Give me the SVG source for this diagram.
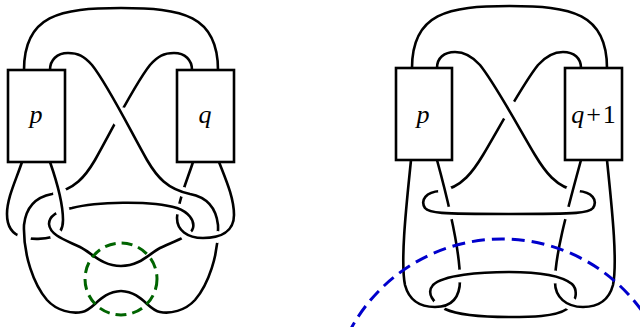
<svg xmlns="http://www.w3.org/2000/svg" width="640" height="327" viewBox="0 0 640 327">
<style>
.s{fill:none;stroke:#000;stroke-width:2.6;stroke-linecap:butt;stroke-linejoin:round}
.box{fill:#fff;stroke:#000;stroke-width:2.6}
.lbl{font-family:"Liberation Serif","Times New Roman",serif;font-size:26px;text-anchor:middle;fill:#000}
.it{font-style:italic}
.g{fill:none;stroke:#006400;stroke-width:3;stroke-dasharray:11 6}
.b{fill:none;stroke:#0000cc;stroke-width:3;stroke-dasharray:13 7}
</style>
<defs>
<mask id="mS1" maskUnits="userSpaceOnUse" x="0" y="0" width="640" height="327"><rect width="640" height="327" fill="#fff"/><circle cx="217.5" cy="237" r="6" fill="#000"/></mask>
<mask id="mS2" maskUnits="userSpaceOnUse" x="0" y="0" width="640" height="327"><rect width="640" height="327" fill="#fff"/><circle cx="121" cy="117" r="10" fill="#000"/><circle cx="60" cy="193" r="7" fill="#000"/></mask>
<mask id="mLH" maskUnits="userSpaceOnUse" x="0" y="0" width="640" height="327"><rect width="640" height="327" fill="#fff"/><circle cx="56.5" cy="235.5" r="6.5" fill="#000"/><circle cx="24" cy="237.5" r="7" fill="#000"/></mask>
<mask id="mRH" maskUnits="userSpaceOnUse" x="0" y="0" width="640" height="327"><rect width="640" height="327" fill="#fff"/><circle cx="183" cy="192" r="5" fill="#000"/><circle cx="178.5" cy="209" r="5.5" fill="#000"/></mask>
<mask id="mLoop" maskUnits="userSpaceOnUse" x="0" y="0" width="640" height="327"><rect width="640" height="327" fill="#fff"/><circle cx="62.5" cy="210.5" r="7" fill="#000"/><circle cx="186.5" cy="235" r="6" fill="#000"/></mask>
<mask id="mT1" maskUnits="userSpaceOnUse" x="0" y="0" width="640" height="327"><rect width="640" height="327" fill="#fff"/><circle cx="573" cy="190.5" r="7" fill="#000"/></mask>
<mask id="mT2" maskUnits="userSpaceOnUse" x="0" y="0" width="640" height="327"><rect width="640" height="327" fill="#fff"/><circle cx="509" cy="110" r="10" fill="#000"/><circle cx="445" cy="191" r="7" fill="#000"/></mask>
<mask id="mPH" maskUnits="userSpaceOnUse" x="0" y="0" width="640" height="327"><rect width="640" height="327" fill="#fff"/><circle cx="450" cy="213" r="6.5" fill="#000"/><circle cx="460" cy="276" r="6.5" fill="#000"/></mask>
<mask id="mQH" maskUnits="userSpaceOnUse" x="0" y="0" width="640" height="327"><rect width="640" height="327" fill="#fff"/><circle cx="567" cy="213" r="6.5" fill="#000"/><circle cx="555" cy="277" r="6.5" fill="#000"/></mask>
<mask id="mEl" maskUnits="userSpaceOnUse" x="0" y="0" width="640" height="327"><rect width="640" height="327" fill="#fff"/><circle cx="439" cy="305.5" r="6.5" fill="#000"/><circle cx="571" cy="304" r="6.5" fill="#000"/></mask>
</defs>
<rect width="640" height="327" fill="#fff"/>
<g id="connectors">
  <!-- left diagram -->
  <path class="s" d="M24,70 C24,15 60,8 121,8 C182,8 218,15 218,70"/>
  <path class="s" mask="url(#mS1)" d="M50,70 C50,60 57,53 68,53 C78,53 84,56 92,65 C108,85 130,130 147,160 C157,177 167,189 190,194 C206,197 216,207 218,225 C219,255 208,285 195,300 C185,311 170,314 160,312 C148,310 142,292 121,291"/>
  <path class="s" mask="url(#mS2)" d="M192,70 C192,60 185,53 174,53 C164,53 158,56 150,65 C134,85 112,130 95,160 C85,177 75,189 52,194 C36,197 26,207 24,225 C23,255 34,285 47,300 C57,311 72,314 82,312 C94,310 100,292 121,291"/>
  <path class="s" mask="url(#mLH)" d="M22,162 C16,180 7,198 7,214 C7,226 12,234 22,237 C32,240 45,239 52,237 C59,235 63,229 63,220 C63,205 58,185 50,162"/>
  <path class="s" mask="url(#mRH)" d="M193,162 C188,178 178,200 177,218 C177,230 187,238 203,238 C220,238 234,232 234,215 C234,198 226,180 219,162"/>
  <path class="s" mask="url(#mLoop)" d="M72,208 C95,202 150,200 177,208 C188,212 195,220 193,228 C191,236 175,241 160,248 C150,253 140,266 121,266 C102,266 92,253 80,247 C68,241 50,236 49,224 C49,216 56,211 72,208 Z"/>
  <!-- right diagram -->
  <path class="s" d="M412,68 C412,13 448,6 509.5,6 C571,6 607,13 607,68"/>
  <path class="s" mask="url(#mT1)" d="M437,68 C437,58 444,52 455,52 C465,52 472,56 480,65 C496,85 520,130 535,155 C544,170 556,188 578,191 C592,192 598,200 593,208 C589,213 580,214 509,214"/>
  <path class="s" mask="url(#mT2)" d="M581,68 C581,58 574,52 563,52 C553,52 546,56 538,65 C522,85 498,130 483,155 C474,170 462,188 440,191 C426,192 420,200 425,208 C429,213 438,214 509,214"/>
  <path class="s" mask="url(#mPH)" d="M411,160 C407,200 400,260 405,285 C409,300 420,307 435,307 C452,307 460,297 460,280 C460,255 452,215 437,160"/>
  <path class="s" mask="url(#mQH)" d="M607,160 C611,200 618,260 613,285 C609,300 598,307 583,307 C566,307 555,297 555,282 C555,255 566,215 581,160"/>
  <path class="s" mask="url(#mEl)" d="M509,272 C538,272 562,276 572,284 C578,290 577,302 567,309 C555,317 530,317 509,317 C488,317 460,316 445,309 C433,303 426,293 433,285 C443,275 480,272 509,272 Z"/>
</g>
<g id="box-p-left">
  <rect class="box" x="8" y="70" width="57" height="92"/>
  <text class="lbl it" x="36" y="123">p</text>
</g>
<g id="box-q-left">
  <rect class="box" x="177" y="70" width="57" height="92"/>
  <text class="lbl it" x="205" y="123">q</text>
</g>
<g id="box-p-right">
  <rect class="box" x="396" y="68" width="56" height="92"/>
  <text class="lbl it" x="423" y="123">p</text>
</g>
<g id="box-q1-right">
  <rect class="box" x="565" y="68" width="57" height="92"/>
  <text class="lbl" x="593.5" y="123"><tspan class="it">q</tspan><tspan dx="2">+</tspan><tspan dx="2">1</tspan></text>
</g>
<g id="annotations">
  <circle class="g" cx="121" cy="279" r="36"/>
  <circle class="b" cx="502" cy="411" r="172"/>
</g>
</svg>
